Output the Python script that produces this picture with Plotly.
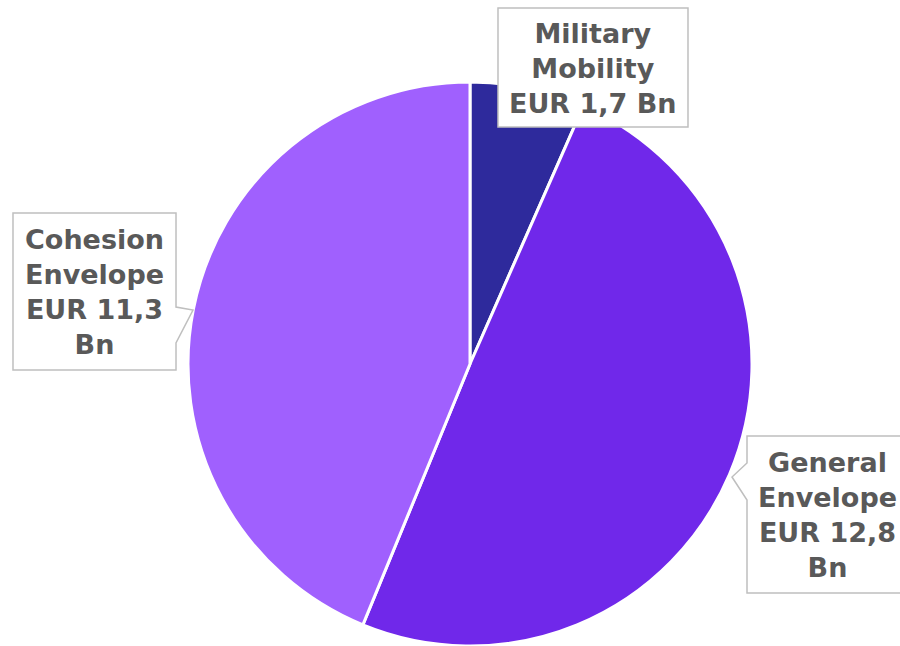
import plotly.graph_objects as go

labels = ["Military Mobility", "General Envelope", "Cohesion Envelope"]
values = [1.7, 12.8, 11.3]
label_texts = ["Military<br>Mobility<br>EUR 1,7 Bn",
               "General<br>Envelope<br>EUR 12,8<br>Bn",
               "Cohesion<br>Envelope<br>EUR 11,3<br>Bn"]
colors = ["#2E2A9C", "#7028EA", "#A060FE"]

W, H = 900, 646


def px(x):
    return x / W


def py(y):
    return min(1.0, max(0.0, 1 - y / H))


fig = go.Figure(go.Pie(
    labels=labels, values=values, sort=False, direction="clockwise",
    rotation=0, textinfo="none", hoverinfo="label+value",
    marker=dict(colors=colors, line=dict(color="white", width=3)),
    domain=dict(x=[px(470 - 282), px(470 + 282)], y=[py(646), py(82)]),
    showlegend=False,
))

# callout boxes (box + pointer), in pixel coordinates converted to paper
callouts = [
    [(498, 8), (688, 8), (688, 127), (498, 127)],
    [(747, 436), (905, 436), (905, 593), (747, 593), (747, 500), (732, 477), (747, 463)],
    [(13, 213), (176, 213), (176, 307), (193, 310), (176, 343), (176, 370), (13, 370)],
]
shapes = []
for pts in callouts:
    path = "M " + " L ".join(f"{x / W:.5f},{1 - y / H:.5f}" for x, y in pts) + " Z"
    shapes.append(dict(type="path", xref="paper", yref="paper", path=path,
                       fillcolor="white", line=dict(color="#BFBFBF", width=1.5),
                       layer="above"))

text_pos = [(593, 68), (827, 515), (94, 292)]
annotations = []
for (x, y), t in zip(text_pos, label_texts):
    annotations.append(dict(x=px(x), y=py(y), xref="paper", yref="paper",
                            text=f"<b>{t}</b>", showarrow=False,
                            xanchor="center", yanchor="middle",
                            font=dict(family="DejaVu Sans", size=27,
                                      color="#595959")))

fig.update_layout(width=W, height=H, margin=dict(l=0, r=0, t=0, b=0),
                  paper_bgcolor="white", plot_bgcolor="white",
                  shapes=shapes, annotations=annotations)

fig.write_html("out.html", config={"displayModeBar": False},
               post_script="document.body.style.margin='0';document.body.style.overflow='hidden';")
